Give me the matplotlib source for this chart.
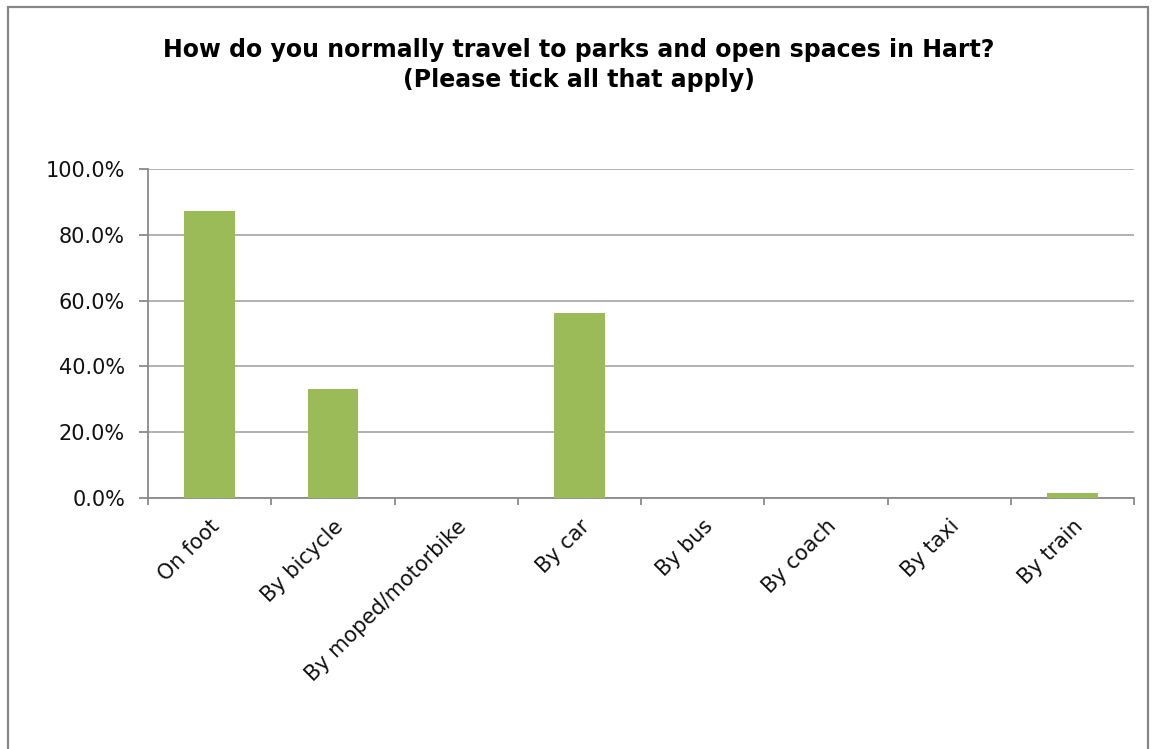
import matplotlib
matplotlib.use("Agg")
import matplotlib.pyplot as plt
from matplotlib.patches import Rectangle
from matplotlib.ticker import FuncFormatter, FixedLocator, NullFormatter

categories = ["On foot", "By bicycle", "By moped/motorbike", "By car",
              "By bus", "By coach", "By taxi", "By train"]
values = [87.3, 33.1, 0.0, 56.2, 0.0, 0.0, 0.0, 1.5]
yticks = [0, 20, 40, 60, 80, 100]
title = "How do you normally travel to parks and open spaces in Hart?\n(Please tick all that apply)"

W, H = 1157, 749
fig = plt.figure(figsize=(W / 100, H / 100), dpi=100)
fig.patch.set_facecolor("white")

# outer chart border (bottom edge runs off the image)
fig.patches.append(Rectangle((8 / W, -0.05), (1148 - 8) / W, 1.05 - 7 / H,
                             transform=fig.transFigure, fill=False,
                             edgecolor="#868686", linewidth=1.6))

ax = fig.add_axes([148 / W, 1 - 498 / H, (1134 - 148) / W, (498 - 169) / H])
x = list(range(len(categories)))
ax.bar(x, values, width=0.41, color="#9BBB59", zorder=3)
ax.set_xlim(-0.5, len(categories) - 0.5)
ax.set_ylim(0, 100)

ax.set_yticks(yticks)
ax.yaxis.set_major_formatter(FuncFormatter(lambda v, p: f"{v:.1f}%"))
ax.grid(axis="y", color="#ababab", linewidth=1.3, zorder=0)

ax.xaxis.set_major_locator(FixedLocator([i - 0.5 for i in range(len(categories) + 1)]))
ax.xaxis.set_major_formatter(NullFormatter())
ax.xaxis.set_minor_locator(FixedLocator(x))
ax.set_xticklabels(categories, minor=True, rotation=45, ha="right",
                   rotation_mode="anchor", fontsize=15, color="#111111")
ax.tick_params(axis="x", which="minor", length=0, pad=13)
ax.tick_params(axis="x", which="major", length=5, color="#8a8a8a", width=1.3)
ax.tick_params(axis="y", length=6.5, color="#8a8a8a", width=1.3, labelsize=15,
               labelcolor="#111111", pad=10)

for s in ["top", "right"]:
    ax.spines[s].set_visible(False)
for s in ["left", "bottom"]:
    ax.spines[s].set_color("#8a8a8a")
    ax.spines[s].set_linewidth(1.3)

fig.text(0.5, 1 - 65 / H, title, ha="center", va="center", fontsize=17,
         fontweight="bold", linespacing=1.27)

fig.savefig("out.png", dpi=100)
